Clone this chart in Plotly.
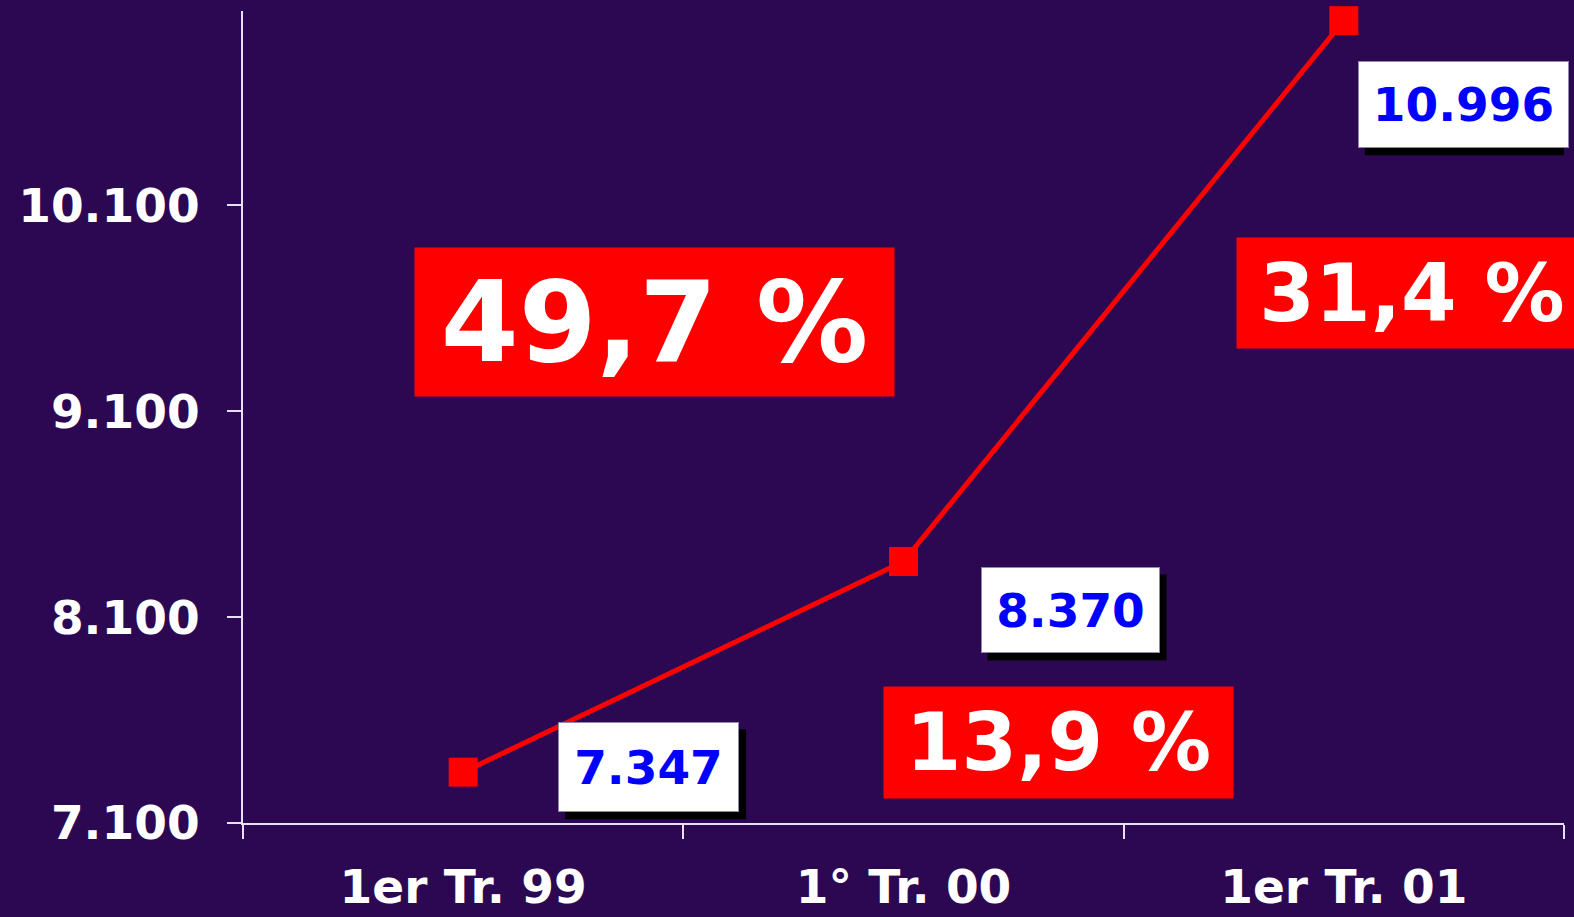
import plotly.graph_objects as go

periods = ["1er Tr. 99", "1° Tr. 00", "1er Tr. 01"]
values = [7347, 8370, 10996]
value_labels = ["7.347", "8.370", "10.996"]
y_ticks = [7100, 8100, 9100, 10100]
y_tick_labels = ["7.100", "8.100", "9.100", "10.100"]
growth_labels = ["49,7 %", "13,9 %", "31,4 %"]

BG = "#2C0852"
FONT = "DejaVu Sans"
W, H = 1574, 917
L, R, T, B = 243, 1564, 11, 823


def px_x(px):
    return (px - L) / (R - L)


def px_y(py):
    return (B - py) / (B - T)


fig = go.Figure()
fig.add_trace(
    go.Scatter(
        x=periods,
        y=values,
        mode="lines+markers",
        line=dict(color="#FF0000", width=5),
        marker=dict(symbol="square", size=29, color="#FF0000"),
        cliponaxis=False,
        showlegend=False,
        hoverinfo="skip",
    )
)

# value boxes (white with black drop shadow), offsets relative to each point
box_specs = [(95, 5, 179, 88), (77, -49, 177, 84), (14, -84, 209, 85)]
anns = []
shapes = []
SH = 7
for i, (p, v, lab, (dx, dy, w, h)) in enumerate(zip(periods, values, value_labels, box_specs)):
    shapes.append(dict(
        type="rect", xref="x", yref="y", xsizemode="pixel", ysizemode="pixel",
        xanchor=i, yanchor=v,
        x0=dx + SH, x1=dx + SH + w + 2,
        y0=dy - SH - h / 2 - 1, y1=dy - SH + h / 2 + 1,
        fillcolor="#000000", line=dict(width=0), layer="above",
    ))
    anns.append(dict(
        x=p, y=v, xref="x", yref="y", xanchor="left", yanchor="middle",
        showarrow=False, width=w, height=h, borderpad=0, align="center",
        valign="middle", text=lab, xshift=dx, yshift=dy, bgcolor="#FFFFFF",
        bordercolor="#9088A8", borderwidth=1,
        font=dict(family=FONT, size=47, color="#0000FF", weight="bold"),
    ))

# red growth boxes: left, top, width, height, font size (pixels)
growth_specs = [(414, 247, 479, 148, 112), (883, 686, 349, 111, 80), (1236, 237, 350, 110, 80)]
for lab, (lx, ty, w, h, fs) in zip(growth_labels, growth_specs):
    anns.append(dict(
        text=lab, x=px_x(lx), y=px_y(ty), xref="paper", yref="paper",
        xanchor="left", yanchor="top", showarrow=False, width=w, height=h,
        borderpad=0, bgcolor="#FF0000", align="center", valign="middle",
        font=dict(family=FONT, size=fs, color="#FFFFFF", weight="bold"),
    ))

fig.update_layout(
    width=W,
    height=H,
    paper_bgcolor=BG,
    plot_bgcolor=BG,
    margin=dict(l=L, r=W - R, t=T, b=H - B, autoexpand=False),
    annotations=anns,
    shapes=shapes,
    font=dict(family=FONT, color="#FFFFFF"),
)
axis_style = dict(
    showgrid=False,
    zeroline=False,
    showline=True,
    linecolor="#E8E0F4",
    linewidth=2,
    ticks="outside",
    ticklen=14,
    tickwidth=2,
    tickcolor="#E8E0F4",
    automargin=False,
    tickfont=dict(family=FONT, size=47, color="#FFFFFF", weight="bold"),
)
fig.update_xaxes(
    type="category",
    range=[-0.5, 2.5],
    tickson="boundaries",
    ticklabelstandoff=22,
    **axis_style,
)
fig.update_yaxes(
    range=[7100, 11043],
    tickvals=y_ticks,
    ticktext=y_tick_labels,
    ticklabelstandoff=18,
    **axis_style,
)

fig.write_html(
    "out.html",
    config={"displayModeBar": False},
    post_script="document.body.style.margin='0';document.body.style.background='#2C0852';",
)
